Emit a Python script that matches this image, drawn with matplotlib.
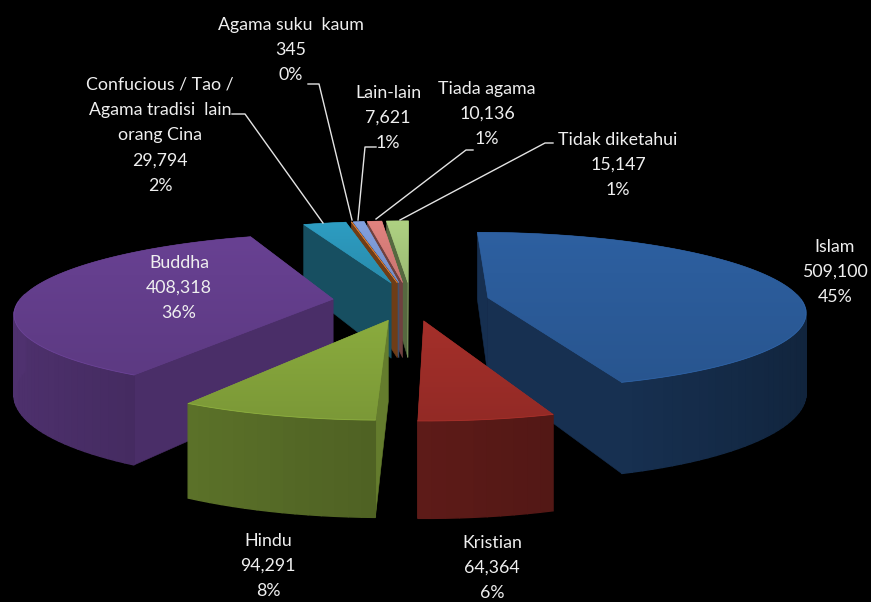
"""
3D exploded pie : religion breakdown
"""
import numpy as np
import matplotlib
matplotlib.use('Agg')
import matplotlib.pyplot as plt
from matplotlib.colors import to_rgb
from matplotlib.patches import Polygon

# data (clockwise from 12 o'clock)
names = ['Islam', 'Kristian', 'Hindu', 'Buddha',
         'Confucious / Tao /\nAgama tradisi  lain\norang Cina',
         'Agama suku  kaum', 'Lain-lain', 'Tiada agama', 'Tidak diketahui']
values = [509100, 64364, 94291, 408318, 29794, 345, 7621, 10136, 15147]
percents = ['45%', '6%', '8%', '36%', '2%', '0%', '1%', '1%', '1%']
colors = ['#2C5D9C', '#A02E29', '#86A63C', '#653F8E', '#2C98BC',
          '#D9782C', '#7F9CD9', '#DB7F7B', '#A9CB7E']

# label centres and leader lines, in pixels
label_pos = [(835, 272), (492, 568), (268, 566), (179, 288), (160, 135),
             (291, 50), (388, 118), (487, 114), (618, 165)]
leaders = [[(232, 114), (245, 114), (323, 223)],
           [(308, 84), (319, 84), (352, 220)],
           [(376, 147), (365, 147), (358, 220)],
           [(473, 150), (466, 150), (376, 219)],
           [(553, 143), (545, 143), (400, 220)]]

# projection of the pie
cx, cy = 411, 301
rx, ry = 314, 77
persp = 0.16
explode = 0.25
depth = 78


def project(X, Y):
    s = 1 / (1 - persp * Y)
    return cx + rx * X * s, cy + ry * Y * s, depth * s


def shade(col, f):
    return tuple(min(1, c * f) for c in to_rgb(col))


def wall_visible(a, b, m):
    # radial wall shows when the slice lies above its edge on screen
    ex, ey = b[0] - a[0], b[1] - a[1]
    return (ex * (m[1] - a[1]) - ey * (m[0] - a[0])) * ex < 0


fig = plt.figure(figsize=(8.71, 6.02), dpi=100, facecolor='black')
ax = fig.add_axes([0, 0, 1, 1])
ax.set_facecolor('black')
ax.axis('off')

fracs = np.array(values) / sum(values)
ends = np.cumsum(fracs) * 2 * np.pi
starts = ends - fracs * 2 * np.pi
mids = (starts + ends) / 2

# far slices first
order = np.argsort(-np.cos(mids))
z = 2
for i in order:
    col = colors[i]
    ox = explode * np.sin(mids[i])
    oy = -explode * np.cos(mids[i])
    th = np.linspace(starts[i], ends[i], max(4, int(fracs[i] * 200)))
    px, py, pd = project(ox + np.sin(th), oy - np.cos(th))
    ax_, ay_, ad_ = project(ox, oy)
    apex = (ax_, ay_)
    rim_mid = (px[len(px) // 2], py[len(py) // 2])

    # radial walls
    for k, t, sign in ((0, starts[i], -1), (-1, ends[i], 1)):
        if wall_visible(apex, (px[k], py[k]), rim_mid):
            f = 0.63 + 0.12 * sign * np.cos(t)
            ax.add_patch(Polygon([apex, (px[k], py[k]), (px[k], py[k] + pd[k]),
                                  (ax_, ay_ + ad_)], closed=True,
                                 fc=shade(col, f), ec=shade(col, f), lw=0.4, zorder=z))
            z += 1

    # outer wall, one strip per step
    for k in range(len(th) - 1):
        tm = (th[k] + th[k + 1]) / 2
        if np.cos(tm) > 0.05:
            continue
        f = 0.58 - 0.2 * np.sin(tm)
        ax.add_patch(Polygon([(px[k], py[k]), (px[k + 1], py[k + 1]),
                              (px[k + 1], py[k + 1] + pd[k + 1]), (px[k], py[k] + pd[k])],
                             closed=True, fc=shade(col, f), ec=shade(col, f), lw=1.0, zorder=z))
    z += 1

    # top face with a soft vertical gradient
    top = Polygon(np.column_stack([np.r_[ax_, px], np.r_[ay_, py]]), closed=True,
                  fc=col, ec=col, lw=0.4, zorder=z)
    ax.add_patch(top)
    grad = np.linspace(1.03, 0.92, 32)[:, None, None] * np.array(to_rgb(col))[None, None, :]
    im = ax.imshow(np.clip(grad, 0, 1), extent=(min(px.min(), ax_), max(px.max(), ax_),
                                                max(py.max(), ay_), min(py.min(), ay_)),
                   aspect='auto', zorder=z + 1, interpolation='bilinear')
    im.set_clip_path(top)
    near = np.cos(th) < 0
    ax.plot(px[near], py[near], color=shade(col, 1.2), lw=0.7, alpha=0.4, zorder=z + 2)
    z += 3

for pts in leaders:
    ax.plot(*zip(*pts), color='#E4E4E4', lw=1.0, zorder=z)

for name, v, p, (x, y) in zip(names, values, percents, label_pos):
    ax.text(x, y, f'{name}\n{v:,}\n{p}', color='#EFEFEF', ha='center', va='center',
            fontsize=12.8, family=['Lato', 'DejaVu Sans'], linespacing=1.72, zorder=z + 1)

ax.set_xlim(0, 871)
ax.set_ylim(602, 0)
fig.savefig('out.png', dpi=100, facecolor='black')
